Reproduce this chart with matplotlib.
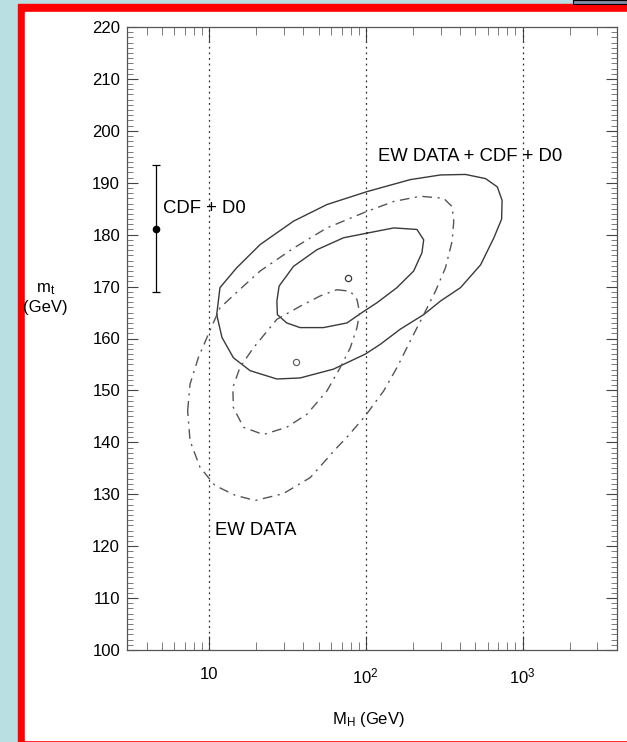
import numpy as np
import matplotlib
matplotlib.use('Agg')
import matplotlib.pyplot as plt
from matplotlib.patches import Rectangle
from matplotlib.ticker import LogLocator, MultipleLocator, FixedLocator, NullFormatter

plt.rcParams['font.family'] = ['Liberation Sans', 'DejaVu Sans']
plt.rcParams['mathtext.fontset'] = 'custom'
plt.rcParams['mathtext.rm'] = 'Liberation Sans'
plt.rcParams['mathtext.it'] = 'Liberation Sans:italic'

# EW DATA + CDF + D0, inner contour (MH in GeV, mt in GeV)
comb_in_mh = [102, 151, 212, 234, 228, 202, 158, 118, 94.6, 75.9, 53.7, 38.1, 31.3, 27.3, 27.1, 28.0, 34.6, 48.8, 72.1]
comb_in_mt = [180.3, 181.3, 181.0, 179.0, 176.5, 173.0, 169.8, 166.9, 165.0, 163.0, 162.1, 162.1, 163.0, 164.6, 167.2, 170.1, 173.9, 177.1, 179.4]

# EW DATA + CDF + D0, outer contour
comb_out_mh = [11.2, 11.75, 15.0, 21.2, 34.6, 56.5, 102, 192, 299, 432, 580, 690, 740, 735, 656, 540, 402, 299,
               234, 166, 124, 99.3, 62.2, 38.1, 27.1, 18.3, 14.3, 12.1]
comb_out_mt = [164.6, 169.8, 173.6, 178.1, 182.6, 185.8, 188.3, 190.6, 191.5, 191.6, 190.8, 189.2, 186.6, 183.0, 179.4,
               174.2, 169.8, 167.2, 164.6, 161.8, 158.9, 157.0, 154.1, 152.4, 152.2, 153.8, 156.3, 160.2]

# EW DATA only, inner contour
ew_in_mh = [65.4, 79.6, 87.9, 91.3, 87.9, 79.6, 68.7, 56.5, 42.1, 31.3, 22.2, 16.6, 14.3, 14.2, 15.8, 19.2, 27.1, 38.1, 51.2]
ew_in_mt = [169.4, 169.1, 167.5, 165.0, 162.1, 158.2, 154.4, 149.9, 145.4, 142.9, 141.5, 142.9, 146.7, 150.6, 154.5,
            158.2, 163.7, 166.2, 168.2]

# EW DATA only, outer contour
ew_out_mh = [7.31, 7.57, 8.55, 9.90, 11.75, 16.6, 21.2, 34.6, 56.5, 102, 151, 223, 314, 355, 364, 355, 322, 278, 234,
             192, 158, 130, 99.3, 75.9, 65.5, 44.2, 29.7, 19.7, 14.7, 10.9, 8.76, 7.57]
ew_out_mt = [146.1, 151.2, 156.3, 160.8, 165.9, 170.1, 173.0, 177.4, 181.3, 184.5, 186.4, 187.4, 187.0, 185.4, 182.6,
             178.7, 173.6, 169.1, 164.6, 159.5, 154.4, 149.9, 145.1, 141.0, 139.0, 133.2, 130.1, 128.8, 129.8, 131.7,
             135.2, 140.3]

# best fit points
best_comb = (77, 171.6)
best_ew = (36, 155.5)

# direct measurement
cdf_d0_x = 4.6
cdf_d0_mt = 181
cdf_d0_lo = 169
cdf_d0_hi = 193.5

xticks = [10, 100, 1000]
xticklabels = ['10', '$10^2$', '$10^3$']
yticks = np.arange(100, 221, 10)

fig = plt.figure(figsize=(6.27, 7.42), dpi=100)
fig.patch.set_facecolor('#b9dfe3')
fig.patches.append(Rectangle((18/627, 0), 609/627, 738/742, transform=fig.transFigure, color='#ff0000', zorder=-2))
fig.patches.append(Rectangle((25/627, 2/742), 602/627, 728/742, transform=fig.transFigure, color='white', zorder=-1))
fig.patches.append(Rectangle((573/627, 738/742), 54/627, 4/742, transform=fig.transFigure,
                             facecolor='#7f8ea6', edgecolor='black', lw=0.8, zorder=-1))

ax = fig.add_axes([127/627, 92/742, 490/627, 623/742])
ax.set_xscale('log')
ax.set_xlim(3, 4000)
ax.set_ylim(100, 220)

for v in xticks:
    ax.axvline(v, color='#333333', ls=(0, (1.5, 3)), lw=0.9)

lc = '#3a3a3a'
dd = (0, (7, 4, 1.5, 4))
ax.plot(np.append(comb_in_mh, comb_in_mh[0]), np.append(comb_in_mt, comb_in_mt[0]), color=lc, lw=1.0)
ax.plot(np.append(comb_out_mh, comb_out_mh[0]), np.append(comb_out_mt, comb_out_mt[0]), color=lc, lw=1.0)
ax.plot(np.append(ew_in_mh, ew_in_mh[0]), np.append(ew_in_mt, ew_in_mt[0]), color='#555555', lw=1.0, ls=dd)
ax.plot(np.append(ew_out_mh, ew_out_mh[0]), np.append(ew_out_mt, ew_out_mt[0]), color='#555555', lw=1.0, ls=dd)

ax.plot(*best_comb, 'o', ms=4.5, mfc='none', mec=lc, mew=0.9)
ax.plot(*best_ew, 'o', ms=4.5, mfc='none', mec='#555555', mew=0.8, ls='none')

ax.errorbar(cdf_d0_x, cdf_d0_mt, yerr=[[cdf_d0_mt - cdf_d0_lo], [cdf_d0_hi - cdf_d0_mt]], fmt='o', color='black',
            ms=4.5, capsize=2.8, elinewidth=0.9, capthick=0.9)

ax.text(5.1, 185, 'CDF + D0', fontsize=13.3, va='center', ha='left')
ax.text(119, 195, 'EW DATA + CDF + D0', fontsize=13.3, va='center', ha='left')
ax.text(10.9, 123.1, 'EW DATA', fontsize=13.3, va='center', ha='left')

ax.xaxis.set_major_locator(FixedLocator(xticks))
ax.set_xticklabels(xticklabels, fontsize=12)
ax.xaxis.set_minor_locator(LogLocator(base=10, subs=np.arange(2, 10)))
ax.xaxis.set_minor_formatter(NullFormatter())
ax.set_yticks(yticks)
ax.yaxis.set_minor_locator(MultipleLocator(1))
ax.tick_params(axis='y', which='major', labelsize=12, direction='in', length=8, width=0.8,
               left=True, right=True, pad=5, colors='#444444', labelcolor='black')
ax.tick_params(axis='y', which='minor', direction='in', length=4, width=0.6, left=True, right=True, color='#666666')
ax.tick_params(axis='x', which='major', direction='in', length=10, width=0.8, top=True, bottom=True, pad=12,
               colors='#444444', labelcolor='black')
ax.tick_params(axis='x', which='minor', direction='in', length=6, width=0.6, top=True, bottom=True, color='#666666')
for s in ax.spines.values():
    s.set_color('#555555')
    s.set_linewidth(0.9)

ax.set_xlabel('M$_\\mathrm{H}$ (GeV)', fontsize=12)
ax.xaxis.set_label_coords(0.492, -0.096)
ax.set_ylabel('$\\mathrm{m_t}$\n(GeV)', fontsize=12, rotation=0, ha='center', va='center', multialignment='center')
ax.yaxis.set_label_coords(-0.166, 0.565)

fig.savefig('out.png', dpi=100, facecolor=fig.get_facecolor())
